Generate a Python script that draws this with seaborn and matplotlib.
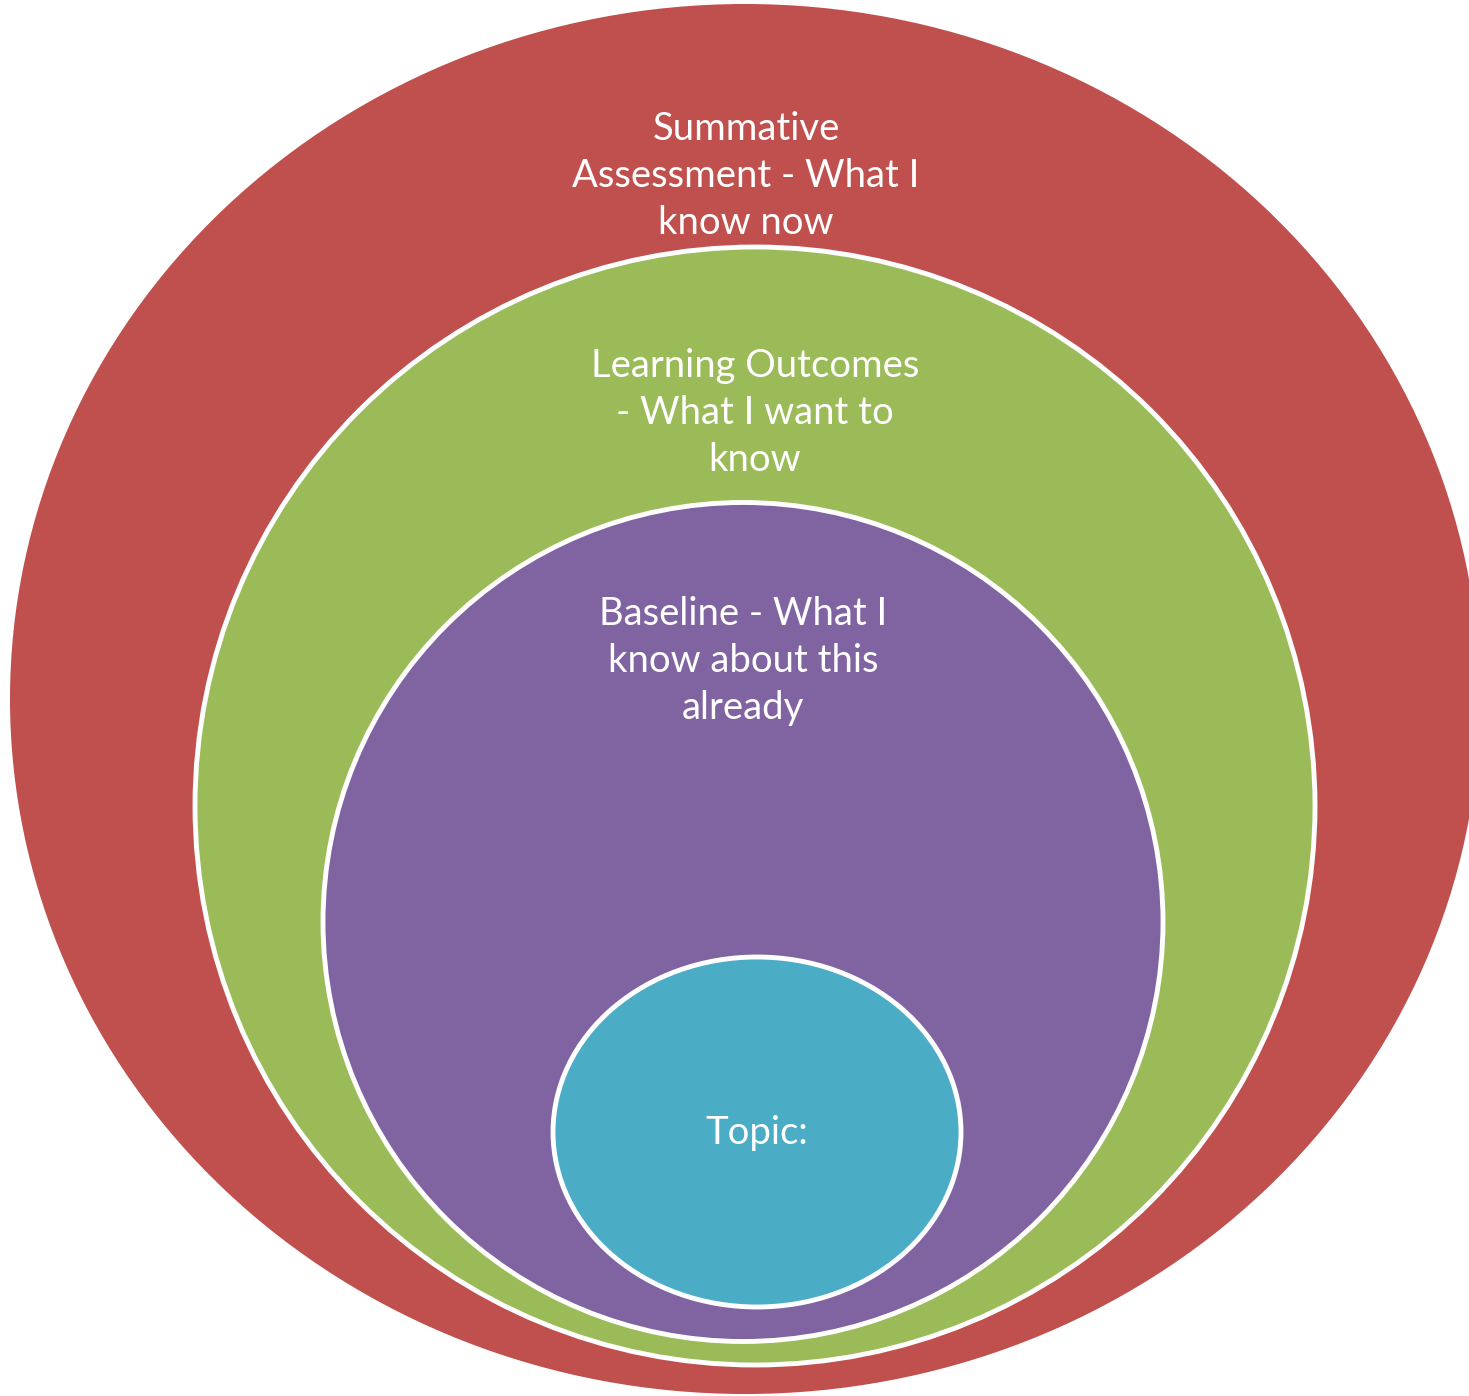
import matplotlib
matplotlib.use("Agg")
import matplotlib.pyplot as plt
from matplotlib.patches import Ellipse
import seaborn as sns

# rings, outermost first
labels = [
    "Summative\nAssessment - What I\nknow now",
    "Learning Outcomes\n- What I want to\nknow",
    "Baseline - What I\nknow about this\nalready",
    "Topic:",
]
colors = ["#C0504D", "#9BBB59", "#8064A2", "#4BACC6"]

# layout in pixels (x, y from top)
centers = [(745, 699), (755, 806), (743, 922), (757, 1132)]
sizes = [(1470, 1390), (1120, 1118), (840, 839), (408, 350)]
edges = [0, 3.5, 3.5, 3.5]
text_pos = [(746, 176), (755, 413), (743, 661), (757, 1133)]

sns.set_style("white")
plt.rcParams["font.family"] = ["Lato", "DejaVu Sans"]

W, H = 1469, 1396
fig = plt.figure(figsize=(W / 100, H / 100), dpi=100)
ax = fig.add_axes([0, 0, 1, 1])
ax.set_xlim(0, W)
ax.set_ylim(H, 0)
ax.set_axis_off()

for (cx, cy), (w, h), c, lw in zip(centers, sizes, colors, edges):
    ax.add_patch(Ellipse((cx, cy), w, h, facecolor=c,
                         edgecolor="white" if lw else c, linewidth=lw))

for (tx, ty), lab in zip(text_pos, labels):
    ax.text(tx, ty, lab, ha="center", va="center", color="white",
            fontsize=27.5, linespacing=1.37)

fig.savefig("out.png", dpi=100, facecolor="white")
